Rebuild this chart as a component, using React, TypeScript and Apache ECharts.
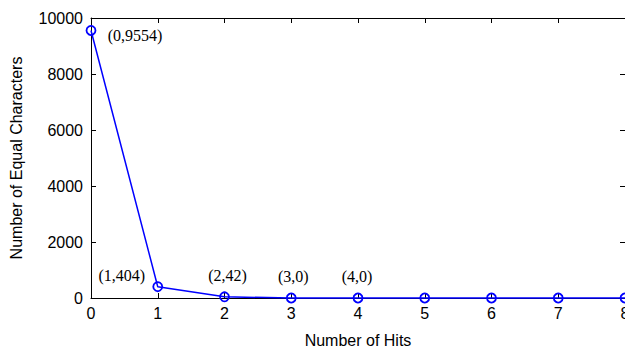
import React, { useEffect, useRef } from "react";
import * as echarts from "echarts";

const hits = [0, 1, 2, 3, 4, 5, 6, 7, 8];
const equalChars = [9554, 404, 42, 0, 0, 0, 0, 0, 0];
const annotatedCount = 5;
const xTicks = [0, 8, 1];
const yTicks = [0, 10000, 2000];
const xName = "Number of Hits";
const yName = "Number of Equal Characters";

const labelOffsets: [number, number][] = [
  [44, 5],
  [-36, -11],
  [3, -21],
  [2, -22],
  [-1, -22],
];

export default function App() {
  const ref = useRef<HTMLDivElement>(null);
  useEffect(() => {
    if (!ref.current) return;
    const chart = echarts.init(ref.current, null, { renderer: "svg" });
    const data = hits.map((h, i) => {
      const item: any = { value: [h, equalChars[i]] };
      if (i < annotatedCount) {
        item.label = {
          show: true,
          formatter: `(${h},${equalChars[i]})`,
          position: "inside",
          offset: labelOffsets[i],
          fontFamily: "Liberation Serif",
          fontSize: 16,
          color: "#000",
          align: "center",
          verticalAlign: "middle",
        };
      }
      return item;
    });
    const axisText = { fontFamily: "Liberation Sans", fontSize: 16, color: "#000" };
    const lineStyle = { color: "#000", width: 1 };
    const plain = (v: number) => String(v);
    chart.setOption({
      animation: false,
      backgroundColor: "#fff",
      grid: {
        left: 91,
        right: 0,
        top: 18,
        bottom: 49,
        containLabel: false,
        outerBoundsMode: "none",
      },
      xAxis: [
        {
          type: "value",
          position: "bottom",
          min: xTicks[0],
          max: xTicks[1],
          interval: xTicks[2],
          name: xName,
          nameLocation: "middle",
          nameGap: 34,
          nameTextStyle: axisText,
          axisLine: { show: true, onZero: false, lineStyle },
          axisTick: { show: true, inside: true, length: 5, lineStyle },
          axisLabel: { ...axisText, margin: 7, formatter: plain },
          splitLine: { show: false },
        },
        {
          type: "value",
          position: "top",
          min: xTicks[0],
          max: xTicks[1],
          interval: xTicks[2],
          axisLine: { show: true, onZero: false, lineStyle },
          axisTick: { show: true, inside: true, length: 5, lineStyle },
          axisLabel: { show: false },
          splitLine: { show: false },
        },
      ],
      yAxis: [
        {
          type: "value",
          position: "left",
          min: yTicks[0],
          max: yTicks[1],
          interval: yTicks[2],
          name: yName,
          nameLocation: "middle",
          nameGap: 67,
          nameTextStyle: axisText,
          axisLine: { show: true, onZero: false, lineStyle },
          axisTick: { show: true, inside: true, length: 5, lineStyle },
          axisLabel: { ...axisText, margin: 8, formatter: plain },
          splitLine: { show: false },
        },
        {
          type: "value",
          position: "right",
          min: yTicks[0],
          max: yTicks[1],
          interval: yTicks[2],
          axisLine: { show: true, onZero: false, lineStyle },
          axisTick: { show: true, inside: true, length: 5, lineStyle },
          axisLabel: { show: false },
          splitLine: { show: false },
        },
      ],
      series: [
        {
          type: "line",
          xAxisIndex: 0,
          yAxisIndex: 0,
          data,
          symbol: "circle",
          symbolSize: 9,
          showAllSymbol: true,
          clip: false,
          z: 5,
          lineStyle: { color: "#0000ff", width: 1.5 },
          itemStyle: { color: "transparent", borderColor: "#0000ff", borderWidth: 1.8 },
        },
      ],
    });
    return () => chart.dispose();
  }, []);
  return (
    <div
      ref={ref}
      style={{ position: "absolute", left: 0, top: 0, width: 625, height: 347 }}
    />
  );
}
